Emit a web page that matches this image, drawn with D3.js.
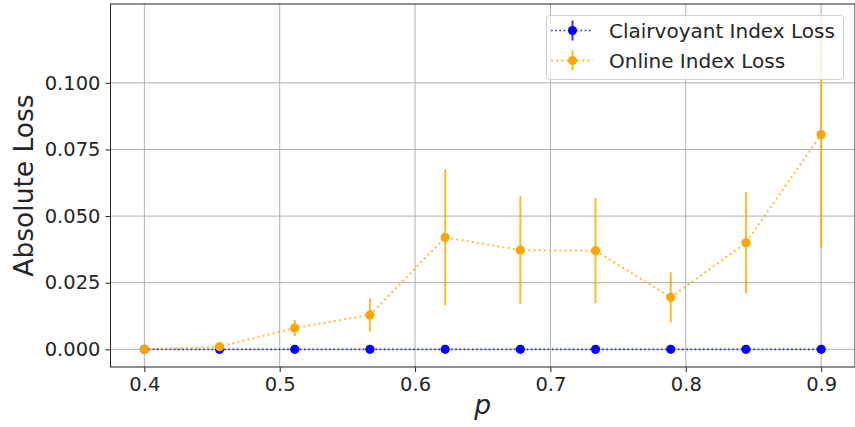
<!DOCTYPE html>
<html>
<head>
<meta charset="utf-8">
<script src="https://cdn.jsdelivr.net/npm/d3@7"></script>
<style>
  html, body { margin: 0; padding: 0; background: #fff; }
  svg { display: block; font-family: "DejaVu Sans", sans-serif; }
</style>
</head>
<body>
<svg id="chart" width="855" height="427"></svg>
<script>
// ---- data ----
const pValues = [0.4, 0.45556, 0.51111, 0.56667, 0.62222, 0.67778, 0.73333, 0.78889, 0.84444, 0.9];
const clairvoyantLoss = [0, 0, 0, 0, 0, 0, 0, 0, 0, 0];
const clairvoyantErr  = [0, 0, 0, 0, 0, 0, 0, 0, 0, 0];
const onlineLoss = [0.0, 0.001, 0.008, 0.0129, 0.042, 0.0372, 0.037, 0.0195, 0.040, 0.0806];
const onlineErr  = [0.0, 0.0005, 0.003, 0.0062, 0.0255, 0.0202, 0.0197, 0.0094, 0.019, 0.0427];
const xTicks = [0.4, 0.5, 0.6, 0.7, 0.8, 0.9];
const yTicks = [0, 0.025, 0.05, 0.075, 0.1];
const seriesNames = ["Clairvoyant Index Loss", "Online Index Loss"];
const seriesColors = ["#0000ff", "#ffa500"];
const xLabel = "p";
const yLabel = "Absolute Loss";

// ---- layout ----
const W = 855, H = 427;
const margin = { left: 110.5, right: 0, top: 4, bottom: 60 };
const plotL = margin.left, plotR = W - margin.right, plotT = margin.top, plotB = H - margin.bottom;

const svg = d3.select("#chart");

const x = d3.scaleLinear().domain([0.375, 0.925]).range([plotL, plotR]);
const y = d3.scaleLinear().domain([-0.00664, 0.1296]).range([plotB, plotT]);

// grid
const grid = svg.append("g");
grid.selectAll("line.gx").data(xTicks).join("line")
  .attr("x1", d => x(d)).attr("x2", d => x(d))
  .attr("y1", plotT).attr("y2", plotB)
  .attr("stroke", "#b0b0b0").attr("stroke-width", 1);
grid.selectAll("line.gy").data(yTicks).join("line")
  .attr("x1", plotL).attr("x2", plotR)
  .attr("y1", d => y(d)).attr("y2", d => y(d))
  .attr("stroke", "#b0b0b0").attr("stroke-width", 1);

// axes
const xAxis = d3.axisBottom(x).tickValues(xTicks).tickFormat(d3.format(".1f")).tickSize(5).tickPadding(5);
const yAxis = d3.axisLeft(y).tickValues(yTicks).tickFormat(d3.format(".3f")).tickSize(5).tickPadding(5);

const gx = svg.append("g").attr("transform", `translate(0,${plotB})`).call(xAxis);
const gy = svg.append("g").attr("transform", `translate(${plotL},0)`).call(yAxis);
[gx, gy].forEach(g => {
  g.select(".domain").remove();
  g.selectAll(".tick line").attr("stroke", "#222").attr("stroke-width", 1);
  g.selectAll(".tick text").attr("fill", "#262626").style("font-size", "19.5px")
    .style("font-family", "DejaVu Sans, sans-serif");
});

// frame
svg.append("rect").attr("x", plotL).attr("y", plotT)
  .attr("width", plotR - plotL).attr("height", plotB - plotT)
  .attr("fill", "none").attr("stroke", "#222").attr("stroke-width", 1);

// axis labels
svg.append("text").attr("x", x(0.65)).attr("y", 414)
  .attr("text-anchor", "middle").style("font-size", "26.5px").style("font-style", "italic")
  .attr("fill", "#262626").text(xLabel);
svg.append("text").attr("transform", `translate(33,${(plotT + plotB) / 2}) rotate(-90)`)
  .attr("text-anchor", "middle").style("font-size", "26.5px")
  .attr("fill", "#262626").text(yLabel);

// series
const series = [
  { name: seriesNames[0], color: seriesColors[0], vals: clairvoyantLoss, errs: clairvoyantErr, lw: 1.7, dash: "1.7,2.5", op: 0.8 },
  { name: seriesNames[1], color: seriesColors[1], vals: onlineLoss, errs: onlineErr, lw: 2, dash: "2,3.2", op: 0.75 }
];
const line = d3.line().x(d => x(d[0])).y(d => y(d[1]));

svg.append("defs").append("clipPath").attr("id", "clip")
  .append("rect").attr("x", plotL).attr("y", plotT).attr("width", plotR - plotL).attr("height", plotB - plotT);

const plot = svg.append("g").attr("clip-path", "url(#clip)");
series.forEach(s => {
  const pts = pValues.map((p, i) => [p, s.vals[i], s.errs[i]]);
  const g = plot.append("g");
  g.append("path").datum(pts).attr("d", line)
    .attr("fill", "none").attr("stroke", s.color).attr("stroke-width", s.lw)
    .attr("stroke-dasharray", s.dash).attr("opacity", s.op);
  g.selectAll("line.err").data(pts.filter(d => d[2] > 0)).join("line")
    .attr("x1", d => x(d[0])).attr("x2", d => x(d[0]))
    .attr("y1", d => y(d[1] - d[2])).attr("y2", d => y(d[1] + d[2]))
    .attr("stroke", s.color).attr("stroke-width", 2).attr("opacity", 0.8);
  g.selectAll("circle").data(pts).join("circle")
    .attr("cx", d => x(d[0])).attr("cy", d => y(d[1])).attr("r", 4.6)
    .attr("fill", s.color);
});

// legend
const leg = svg.append("g");
leg.append("rect").attr("x", 546.5).attr("y", 15.5).attr("width", 297).attr("height", 64)
  .attr("rx", 3).attr("fill", "#fff").attr("fill-opacity", 0.8)
  .attr("stroke", "#d0d0d0").attr("stroke-width", 1);
series.forEach((s, i) => {
  const cy = 30.5 + i * 30;
  leg.append("line").attr("x1", 551).attr("x2", 593).attr("y1", cy).attr("y2", cy)
    .attr("stroke", s.color).attr("stroke-width", s.lw).attr("stroke-dasharray", s.dash).attr("opacity", s.op);
  leg.append("line").attr("x1", 572.5).attr("x2", 572.5).attr("y1", cy - 10).attr("y2", cy + 10)
    .attr("stroke", s.color).attr("stroke-width", 2).attr("opacity", 0.8);
  leg.append("circle").attr("cx", 572.5).attr("cy", cy).attr("r", 4.6).attr("fill", s.color);
  leg.append("text").attr("x", 609).attr("y", cy).attr("dy", "0.36em")
    .style("font-size", "20px").attr("fill", "#262626").text(s.name);
});
</script>
</body>
</html>
